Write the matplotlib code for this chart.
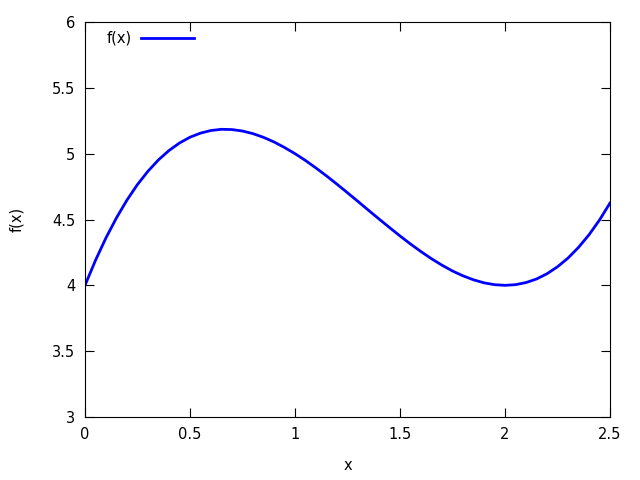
import numpy as np
import matplotlib
matplotlib.use('Agg')
import matplotlib.pyplot as plt

# values
x_vals = [0.00, 0.05, 0.10, 0.15, 0.20, 0.25, 0.30, 0.35, 0.40, 0.45,
          0.50, 0.55, 0.60, 0.65, 0.70, 0.75, 0.80, 0.85, 0.90, 0.95,
          1.00, 1.05, 1.10, 1.15, 1.20, 1.25, 1.30, 1.35, 1.40, 1.45,
          1.50, 1.55, 1.60, 1.65, 1.70, 1.75, 1.80, 1.85, 1.90, 1.95,
          2.00, 2.05, 2.10, 2.15, 2.20, 2.25, 2.30, 2.35, 2.40, 2.45, 2.50]
y_vals = [4.000, 4.190, 4.361, 4.513, 4.648, 4.766, 4.867, 4.953, 5.024, 5.081,
          5.125, 5.156, 5.176, 5.185, 5.183, 5.172, 5.152, 5.124, 5.089, 5.047,
          5.000, 4.948, 4.891, 4.831, 4.768, 4.703, 4.637, 4.570, 4.504, 4.439,
          4.375, 4.314, 4.256, 4.202, 4.153, 4.109, 4.072, 4.042, 4.019, 4.005,
          4.000, 4.005, 4.021, 4.048, 4.088, 4.141, 4.207, 4.288, 4.384, 4.496, 4.625]

x_ticks = [0, 0.5, 1, 1.5, 2, 2.5]
x_labels = ['0', '0.5', '1', '1.5', '2', '2.5']
y_ticks = [3, 3.5, 4, 4.5, 5, 5.5, 6]
y_labels = ['3', '3.5', '4', '4.5', '5', '5.5', '6']

plt.rcParams['font.family'] = 'DejaVu Sans'
plt.rcParams['font.size'] = 10.5

fig = plt.figure(figsize=(6.4, 4.8), dpi=100)
ax = fig.add_axes([85/640, 1 - 417/480, (610 - 85)/640, (417 - 22)/480])

ax.plot(x_vals, y_vals, color='#0000ff', linewidth=2.0, label='f(x)')

ax.set_xlim(0, 2.5)
ax.set_ylim(3, 6)
ax.set_xticks(x_ticks)
ax.set_xticklabels(x_labels)
ax.set_yticks(y_ticks)
ax.set_yticklabels(y_labels)
ax.tick_params(direction='in', length=6.5, width=0.8, top=True, right=True, pad=7)
for s in ax.spines.values():
    s.set_linewidth(0.8)

ax.set_xlabel('x', labelpad=12)
ax.set_ylabel('f(x)', labelpad=20)

ax.legend(loc='upper left', frameon=False, markerfirst=False,
          handlelength=3.6, handletextpad=0.65, borderaxespad=0.2,
          bbox_to_anchor=(0.025, 1.0))

fig.savefig('out.png', dpi=100)
